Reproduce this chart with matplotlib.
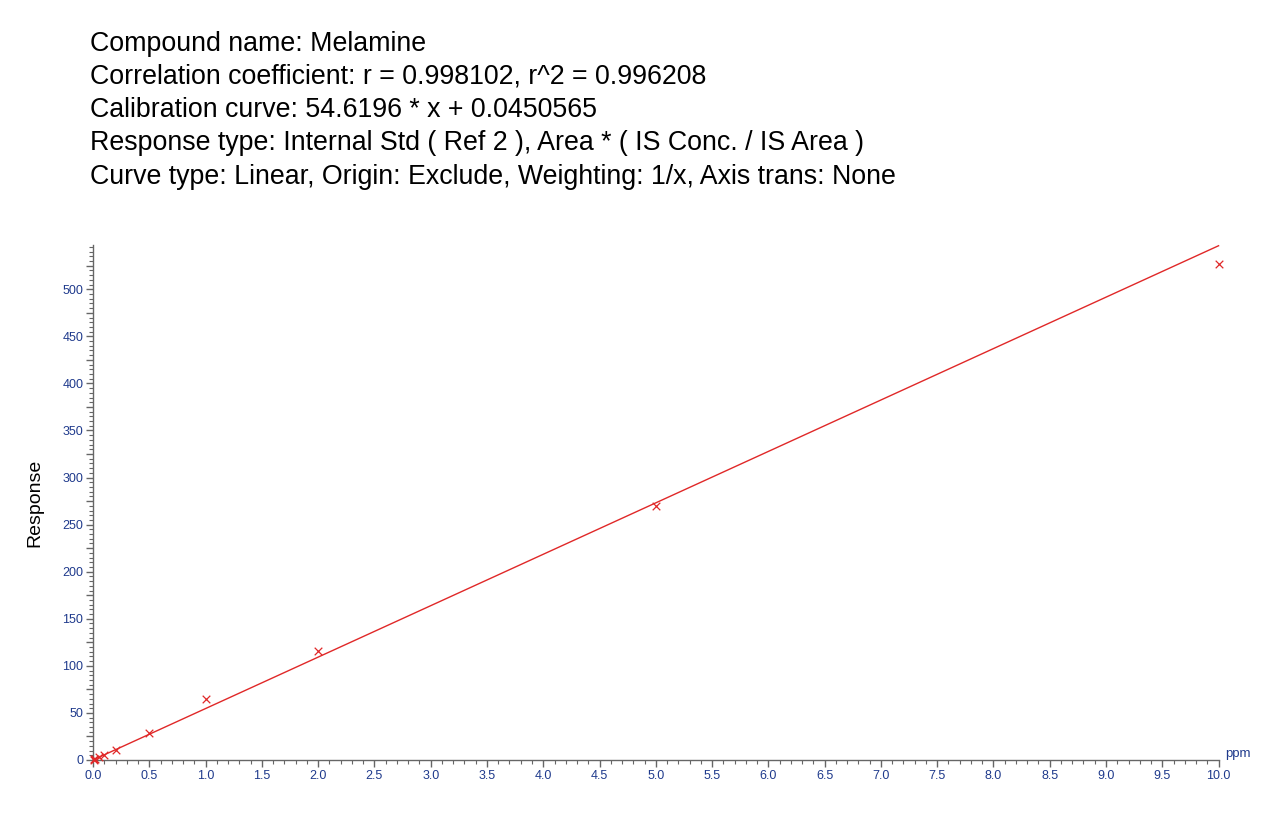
import numpy as np
import matplotlib
matplotlib.use("Agg")
import matplotlib.pyplot as plt
from matplotlib.ticker import MultipleLocator, FuncFormatter

plt.rcParams['font.family'] = ['Liberation Sans', 'DejaVu Sans']

# standards (ppm) and measured response
conc = [0.005, 0.01, 0.02, 0.05, 0.1, 0.2, 0.5, 1.0, 2.0, 5.0, 10.0]
response = [0.3, 0.6, 1.1, 2.8, 5.3, 10.9, 29.0, 65.0, 116.0, 270.0, 527.0]

slope = 54.6196
intercept = 0.0450565

header = [
    "Compound name: Melamine",
    "Correlation coefficient: r = 0.998102, r^2 = 0.996208",
    "Calibration curve: 54.6196 * x + 0.0450565",
    "Response type: Internal Std ( Ref 2 ), Area * ( IS Conc. / IS Area )",
    "Curve type: Linear, Origin: Exclude, Weighting: 1/x, Axis trans: None",
]

red = '#e02828'
navy = '#1f3a8c'
grey = '#666666'

fig = plt.figure(figsize=(12.8, 8.25), dpi=100)
ax = fig.add_axes([0.0727, 0.0788, 0.952 - 0.0727, 0.703 - 0.0788])

# fitted line
xs = np.array([0.0, 10.0])
ax.plot(xs, slope * xs + intercept, color=red, lw=1.0, clip_on=False)
ax.scatter(conc, response, marker='x', color=red, s=30, linewidths=0.9,
           zorder=3, clip_on=False)

ax.set_xlim(0, 10)
ax.set_ylim(0, 547)

for s in ['top', 'right']:
    ax.spines[s].set_visible(False)
for s in ['left', 'bottom']:
    ax.spines[s].set_color(grey)
    ax.spines[s].set_linewidth(1.0)

ax.xaxis.set_major_locator(MultipleLocator(0.5))
ax.xaxis.set_minor_locator(MultipleLocator(0.1))
ax.xaxis.set_major_formatter(FuncFormatter(lambda v, p: f"{v:.1f}"))
ax.yaxis.set_major_locator(MultipleLocator(25))
ax.yaxis.set_minor_locator(MultipleLocator(5))
ax.yaxis.set_major_formatter(FuncFormatter(lambda v, p: f"{int(round(v))}" if round(v) % 50 == 0 else ""))

ax.tick_params(which='major', direction='out', length=5, width=1, color=grey,
               labelcolor=navy, labelsize=9, pad=2)
ax.tick_params(which='minor', direction='out', length=3, width=0.8, color=grey)

ax.set_ylabel("Response", fontsize=14, labelpad=14)
ax.text(10.06, 0, "ppm", color=navy, fontsize=9.5, va='bottom', ha='left',
        transform=ax.transData, clip_on=False)

y0 = 0.947
for i, line in enumerate(header):
    fig.text(0.0703, y0 - i * 0.0403, line, fontsize=19.3, va='center', ha='left')

fig.savefig("out.png", dpi=100)
